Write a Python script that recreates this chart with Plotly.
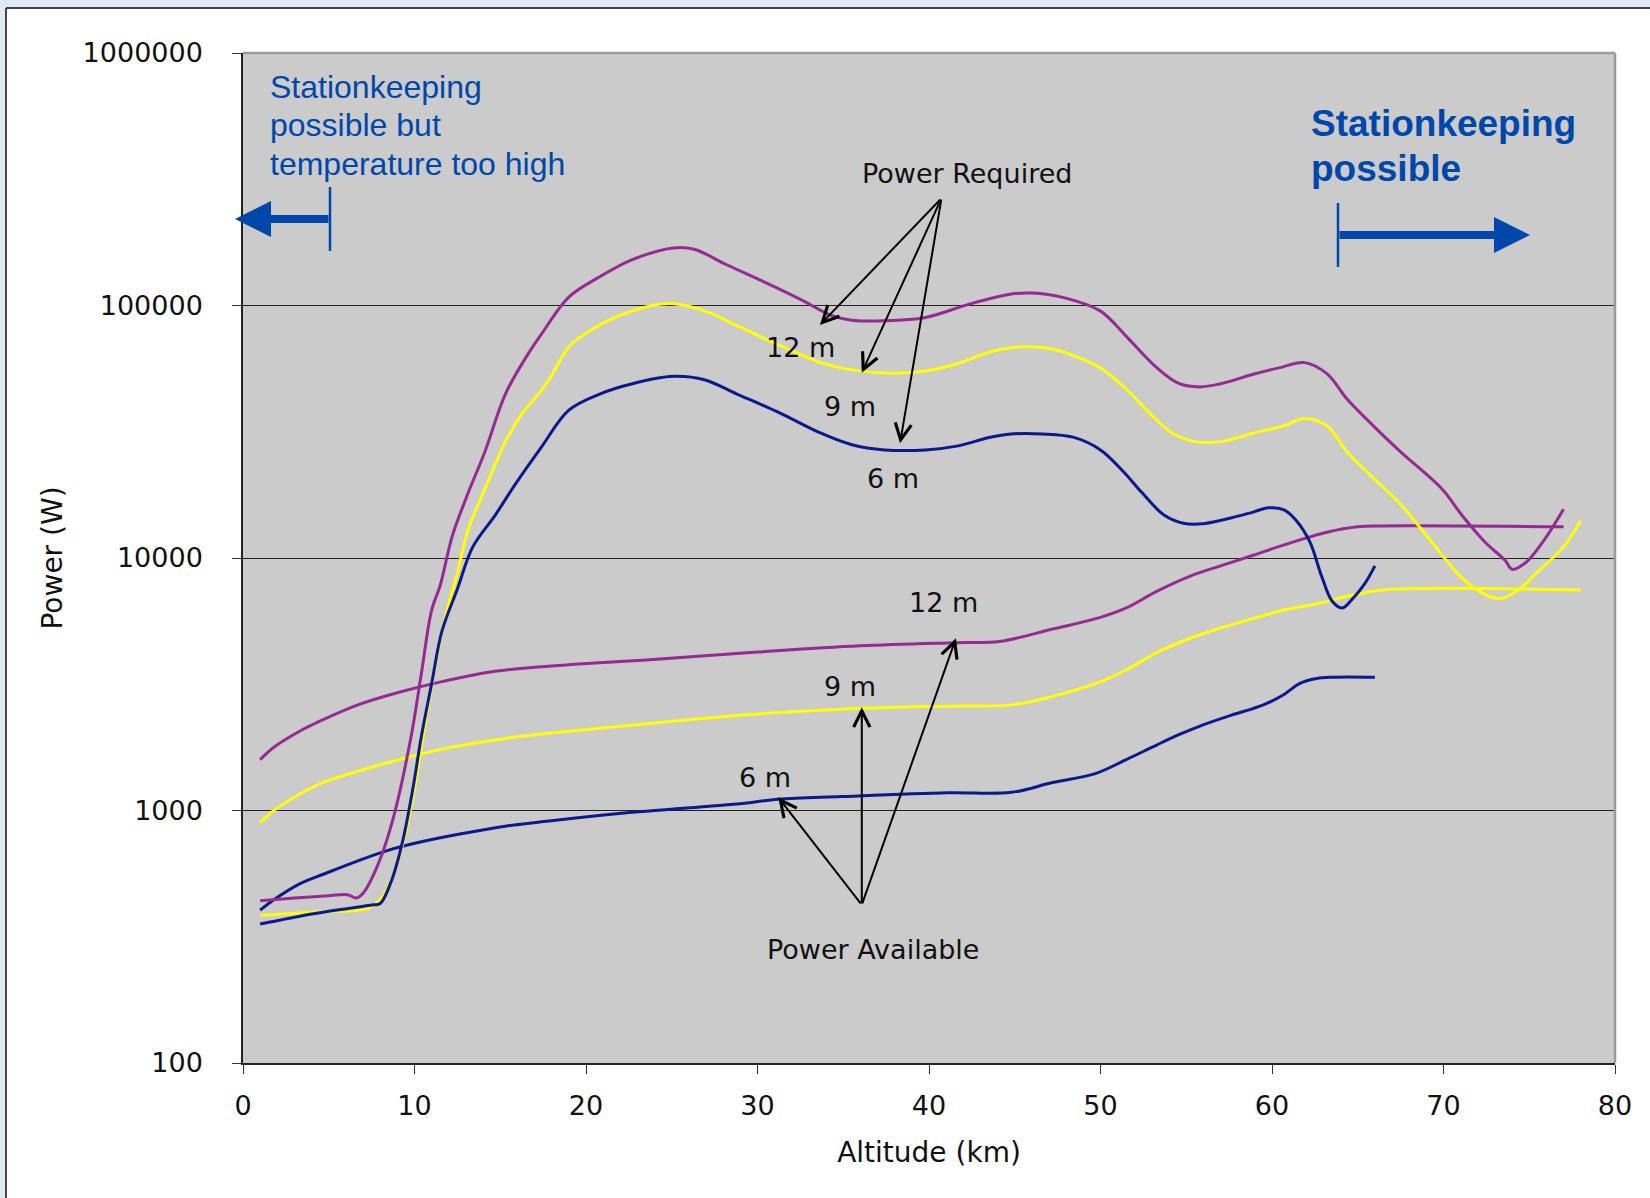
import plotly.graph_objects as go

# ---------------------------------------------------------------- data
# Power required for stationkeeping (W) vs altitude (km), by envelope size
alt_req_12 = [1.0, 3.0, 5.0, 6.1, 6.6, 7.0, 7.9, 8.8, 9.8, 10.4, 11.0, 11.5, 12.2, 13.1,
              14.1, 15.3, 16.5, 17.4, 19.0, 20.8, 22.7, 25.1, 26.3, 28.2, 30.6, 32.5,
              34.3, 35.5, 37.4, 39.8, 42.3, 44.8, 46.0, 47.8, 50.0, 51.5, 53.3, 54.6,
              55.8, 57.0, 58.9, 60.4, 61.9, 63.2, 64.4, 65.6, 67.5, 69.9, 71.1, 72.4,
              73.6, 74.0, 74.8, 75.8, 77.0]
pow_req_12 = [439, 450, 460, 464, 450, 470, 617, 955, 1960, 3490, 6220, 7800, 12200, 17900,
              26300, 44600, 62300, 77000, 108000, 130000, 152000, 169000, 167000, 145000,
              122000, 105700, 91400, 87500, 87000, 89700, 101000, 111000, 112000, 107700,
              95000, 75500, 56600, 49000, 47600, 49000, 53400, 56600, 59400, 53700, 42400,
              35000, 26300, 18800, 14700, 11600, 9770, 9020, 9600, 11600, 15600]

alt_req_9 = [1.0, 4.0, 6.7, 7.3, 8.0, 8.8, 9.5, 10.1, 10.7, 11.3, 11.9, 12.5, 13.1, 14.1,
             15.3, 16.2, 17.7, 19.0, 20.2, 22.0, 23.9, 25.1, 26.9, 28.8, 31.2, 33.7, 35.5,
             37.4, 39.8, 41.7, 43.5, 45.4, 47.2, 48.4, 50.0, 51.5, 53.0, 54.2, 55.5, 57.0,
             58.9, 60.7, 61.9, 63.2, 64.4, 65.6, 67.5, 69.3, 71.1, 72.4, 73.4, 74.5, 75.4,
             77.0, 78.0]
pow_req_9 = [384, 395, 403, 410, 443, 563, 827, 1340, 2380, 4030, 6220, 8700, 12800, 18700,
             28900, 36700, 49000, 68500, 79200, 91500, 100000, 101700, 95400, 83200, 70000,
             59400, 55600, 54000, 55000, 58900, 65300, 68600, 67300, 63500, 56600, 46700,
             36700, 31200, 28900, 28900, 31200, 33400, 35700, 33400, 26200, 21700, 16300,
             11600, 8300, 7180, 6920, 7600, 8710, 11070, 14060]

alt_req_6 = [1.0, 4.2, 7.6, 8.0, 8.7, 9.3, 9.9, 10.4, 11.0, 11.6, 12.5, 13.4, 14.7, 15.9,
             17.4, 19.0, 20.8, 22.7, 25.1, 26.9, 28.8, 31.2, 33.7, 35.5, 37.4, 39.8, 41.7,
             43.5, 44.8, 46.6, 48.4, 50.0, 51.3, 52.4, 53.7, 54.9, 56.1, 57.6, 58.9, 59.8,
             60.7, 61.4, 62.2, 62.9, 63.5, 64.1, 64.7, 65.4, 66.0]
pow_req_6 = [355, 391, 423, 428, 537, 751, 1216, 1965, 3180, 5130, 7540, 11070, 14760, 19700,
             27500, 38500, 44600, 49000, 52400, 50800, 44600, 37800, 31200, 28100, 26800,
             26800, 27800, 30000, 31000, 31000, 30100, 26800, 22100, 18200, 14800, 13700,
             13700, 14400, 15200, 15800, 15500, 14100, 11600, 8450, 6760, 6340, 6900, 7900,
             9310]

# Power available (W) vs altitude (km)
alt_av_12 = [1.0, 1.8, 3.3, 4.8, 6.7, 9.1, 11.6, 14.7, 19.0, 23.7, 30.0, 36.0, 41.6, 44.1,
             47.2, 50.0, 51.5, 53.3, 55.2, 57.0, 58.9, 60.7, 63.2, 65.0, 66.5, 77.0]
pow_av_12 = [1590, 1780, 2060, 2310, 2620, 2940, 3240, 3560, 3780, 3950, 4240, 4490, 4620,
             4670, 5230, 5820, 6340, 7390, 8460, 9310, 10250, 11270, 12650, 13300, 13400,
             13300]

alt_av_9 = [1.0, 1.8, 3.3, 4.8, 6.7, 9.1, 11.6, 15.3, 19.0, 23.7, 28.8, 34.9, 41.1, 44.8,
            47.2, 49.7, 51.5, 53.3, 55.2, 57.0, 58.9, 60.7, 62.6, 64.4, 66.4, 78.0]
pow_av_9 = [893, 1000, 1160, 1300, 1430, 1590, 1750, 1930, 2060, 2210, 2380, 2520, 2590,
            2620, 2830, 3180, 3600, 4230, 4800, 5280, 5760, 6220, 6590, 7050, 7470, 7470]

alt_av_6 = [1.0, 1.8, 3.3, 4.8, 6.7, 8.5, 10.4, 12.8, 15.3, 19.0, 22.7, 25.7, 28.8, 31.2,
            34.9, 41.1, 44.8, 47.2, 49.7, 51.5, 53.3, 54.6, 55.8, 57.6, 59.5, 60.7, 61.6,
            62.6, 63.5, 66.0]
pow_av_6 = [403, 443, 512, 563, 632, 697, 752, 811, 867, 928, 984, 1020, 1060, 1107, 1135,
            1175, 1180, 1290, 1400, 1590, 1820, 2000, 2160, 2380, 2620, 2880, 3180, 3330,
            3370, 3370]

x_ticks = [0, 10, 20, 30, 40, 50, 60, 70, 80]
y_ticks = [100, 1000, 10000, 100000, 1000000]
y_tick_labels = ["100", "1000", "10000", "100000", "1000000"]

# ---------------------------------------------------------------- styling
W, H = 1650, 1198
ML, MR, MT, MB = 243, 35, 53, 135
PURPLE = "#952a92"
YELLOW = "#ffff00"
NAVY = "#0a1a8c"
BLUE_TXT = "#0047ab"
FONT = "DejaVu Sans"
INK = "#111111"


def px_x(px):
    return (px - ML) / (W - ML - MR)


def px_y(py):
    return (H - MB - py) / (H - MT - MB)


fig = go.Figure()

curves = [
    (alt_av_12, pow_av_12, PURPLE),
    (alt_av_9, pow_av_9, YELLOW),
    (alt_av_6, pow_av_6, NAVY),
    (alt_req_12, pow_req_12, PURPLE),
    (alt_req_9, pow_req_9, YELLOW),
    (alt_req_6, pow_req_6, NAVY),
]
for xs, ys, col in curves:
    fig.add_trace(go.Scatter(
        x=xs, y=ys, mode="lines",
        line=dict(color=col, width=3, shape="spline", smoothing=1.0),
        hoverinfo="skip", showlegend=False,
    ))

fig.update_layout(
    width=W, height=H,
    margin=dict(l=ML, r=MR, t=MT, b=MB, autoexpand=False),
    paper_bgcolor="white",
    plot_bgcolor="#cbcbcb",
    font=dict(family=FONT, color=INK, size=27),
    showlegend=False,
)

fig.update_xaxes(
    range=[0, 80], tickvals=x_ticks, ticks="outside", ticklen=9, tickwidth=1,
    tickcolor="#333333", showgrid=False, zeroline=False,
    showline=True, linecolor="#222222", linewidth=1.5,
    tickfont=dict(size=27, family=FONT, color=INK),
    ticklabelstandoff=9,
    title=dict(text="Altitude (km)", font=dict(size=28, family=FONT, color=INK),
               standoff=22),
)
fig.update_yaxes(
    type="log", range=[2, 6], tickvals=y_ticks, ticktext=y_tick_labels,
    ticks="outside", ticklen=9, tickwidth=1, tickcolor="#333333",
    showgrid=True, gridcolor="#222222", gridwidth=1, zeroline=False,
    showline=True, linecolor="#222222", linewidth=1.5,
    tickfont=dict(size=27, family=FONT, color=INK),
    ticklabelstandoff=24,
    title=dict(text="Power (W)", font=dict(size=28, family=FONT, color=INK),
               standoff=12),
)

shapes = []
# page frame: pale blue band along top and left, dark rule inside it
shapes.append(dict(type="rect", xref="paper", yref="paper", x0=px_x(-10), x1=px_x(W + 10),
                   y0=px_y(8), y1=px_y(-10), fillcolor="#dfeaf6", line_width=0, layer="below"))
shapes.append(dict(type="rect", xref="paper", yref="paper", x0=px_x(-10), x1=px_x(6),
                   y0=px_y(H + 10), y1=px_y(-10), fillcolor="#dfeaf6", line_width=0, layer="below"))
shapes.append(dict(type="line", xref="paper", yref="paper", x0=px_x(6), x1=px_x(W + 10),
                   y0=px_y(8), y1=px_y(8), line=dict(color="#444444", width=2), layer="below"))
shapes.append(dict(type="line", xref="paper", yref="paper", x0=px_x(6), x1=px_x(6),
                   y0=px_y(8), y1=px_y(H + 10), line=dict(color="#444444", width=2), layer="below"))
# light top and right edges of the plot area
shapes.append(dict(type="line", xref="paper", yref="paper", x0=0, x1=1, y0=1, y1=1,
                   line=dict(color="#9a9a9a", width=2.5), layer="above"))
shapes.append(dict(type="line", xref="paper", yref="paper", x0=1, x1=1, y0=0, y1=1,
                   line=dict(color="#9a9a9a", width=2.5), layer="above"))
# end bars of the two region arrows
shapes.append(dict(type="line", xref="paper", yref="paper", x0=px_x(330), x1=px_x(330),
                   y0=px_y(187), y1=px_y(251), line=dict(color=BLUE_TXT, width=2.5)))
shapes.append(dict(type="line", xref="paper", yref="paper", x0=px_x(1338), x1=px_x(1338),
                   y0=px_y(203), y1=px_y(267), line=dict(color=BLUE_TXT, width=2.5)))
fig.update_layout(shapes=shapes)

ann = []
# region arrows
ann.append(dict(xref="paper", yref="paper", x=px_x(235), y=px_y(219), ax=95, ay=0,
                text="", showarrow=True, arrowhead=2, arrowsize=0.9, arrowwidth=8,
                arrowcolor=BLUE_TXT, standoff=0, startstandoff=0))
ann.append(dict(xref="paper", yref="paper", x=px_x(1530), y=px_y(235), ax=-192, ay=0,
                text="", showarrow=True, arrowhead=2, arrowsize=0.9, arrowwidth=8,
                arrowcolor=BLUE_TXT, standoff=0, startstandoff=0))

# region captions
for i, line in enumerate(["Stationkeeping", "possible but", "temperature too high"]):
    ann.append(dict(xref="paper", yref="paper", x=px_x(268), y=px_y(87 + 38.5 * i),
                    xanchor="left", yanchor="middle", showarrow=False, text=line,
                    font=dict(family="Liberation Sans, Arial", size=32, color=BLUE_TXT)))
for i, line in enumerate(["Stationkeeping", "possible"]):
    ann.append(dict(xref="paper", yref="paper", x=px_x(1309), y=px_y(124 + 44 * i),
                    xanchor="left", yanchor="middle", showarrow=False,
                    text="<b>" + line + "</b>",
                    font=dict(family="Liberation Sans, Arial", size=37, color=BLUE_TXT)))

# callouts (y in log10 units on the log axis)
txt = dict(family=FONT, size=27, color=INK)
ann.append(dict(x=42.2, y=5.521, text="Power Required", showarrow=False, font=txt))
ann.append(dict(x=36.76, y=2.448, text="Power Available", showarrow=False, font=txt))

req_origin = (40.73, 5.425)
for hx, hy in [(33.64, 4.923), (36.08, 4.734), (38.31, 4.454)]:
    ann.append(dict(x=hx, y=hy, ax=req_origin[0], ay=req_origin[1], axref="x", ayref="y",
                    text="", showarrow=True, arrowhead=5, arrowsize=1.6, arrowwidth=2,
                    arrowcolor="#000000", standoff=0, startstandoff=0))
av_origin = (36.08, 2.626)
for hx, hy in [(31.21, 3.052), (36.08, 3.409), (41.57, 3.682)]:
    ann.append(dict(x=hx, y=hy, ax=av_origin[0], ay=av_origin[1], axref="x", ayref="y",
                    text="", showarrow=True, arrowhead=5, arrowsize=1.6, arrowwidth=2,
                    arrowcolor="#000000", standoff=0, startstandoff=0))

for label, lx, ly in [("12 m", 32.48, 4.835), ("9 m", 35.39, 4.599), ("6 m", 37.92, 4.316),
                      ("12 m", 40.87, 3.823), ("9 m", 35.39, 3.493), ("6 m", 30.44, 3.132)]:
    ann.append(dict(x=lx, y=ly, text=label, showarrow=False, font=txt))

fig.update_layout(annotations=ann)

fig.write_html("out.html")
